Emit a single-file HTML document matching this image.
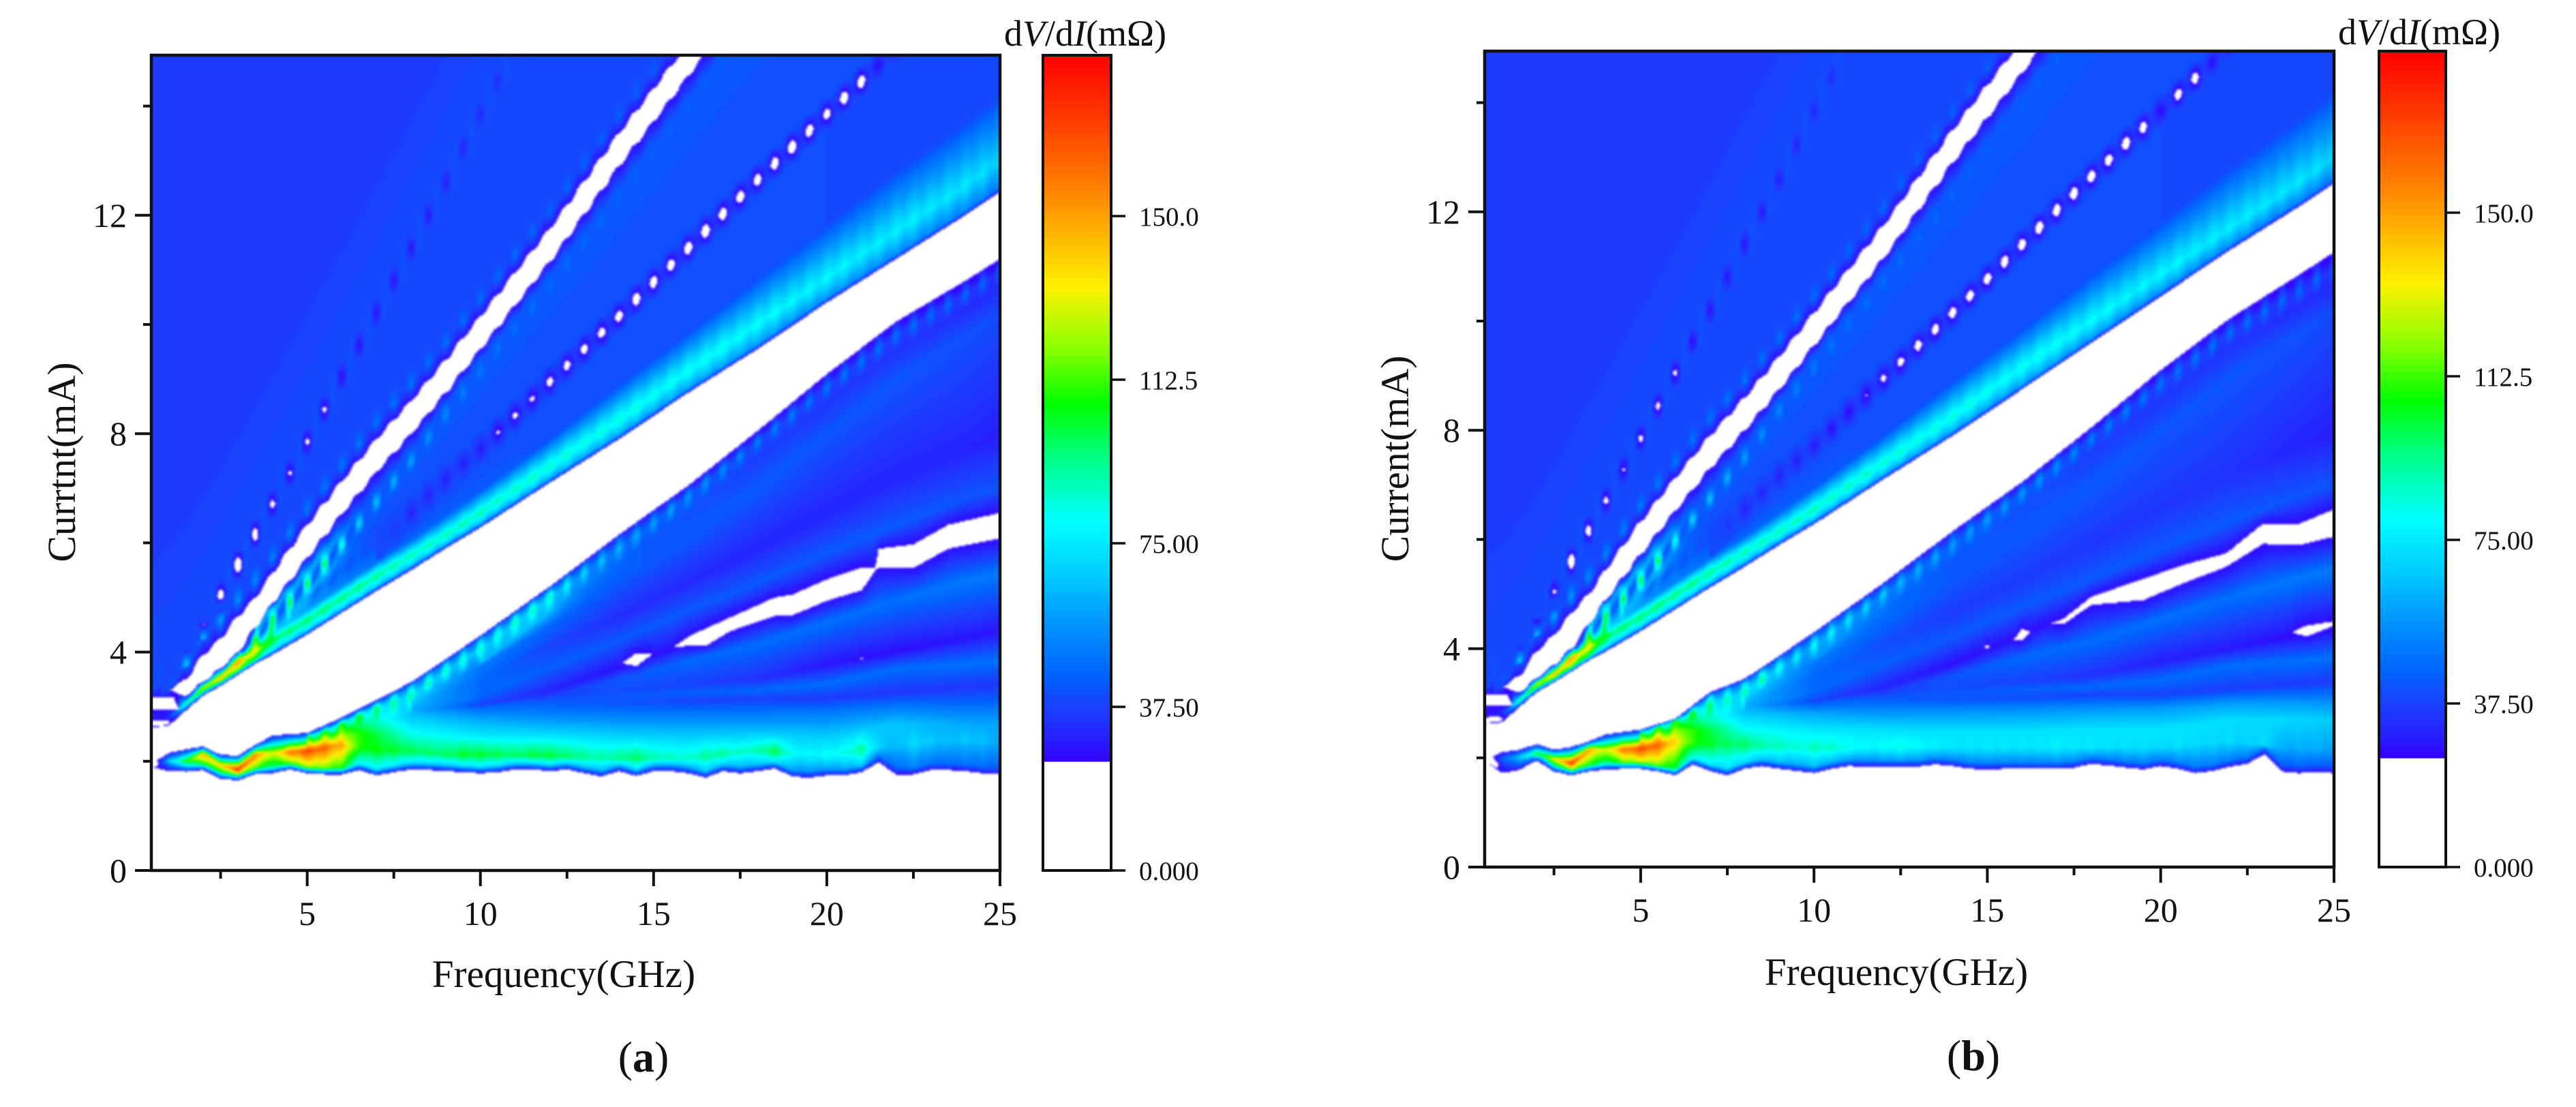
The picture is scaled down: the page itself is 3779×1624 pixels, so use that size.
<!DOCTYPE html>
<html lang="en">
<head>
<meta charset="utf-8">
<title>dV/dI maps versus frequency and current</title>
<style>
html,body{margin:0;padding:0;background:#fff;width:3779px;height:1624px;overflow:hidden}
svg{display:block}
text{font-family:"Liberation Serif","Noto Serif CJK SC",serif;fill:#111}
</style>
</head>
<body>
<svg id="figure" xmlns="http://www.w3.org/2000/svg" width="3779" height="1624" viewBox="0 0 3779 1624">
  <defs>
    <filter id="soft" x="0" y="0" width="3779" height="1624" filterUnits="userSpaceOnUse" color-interpolation-filters="sRGB"><feGaussianBlur stdDeviation="1.6"/></filter>
    <clipPath id="clip-a"><rect x="222" y="81" width="1245" height="1196"/></clipPath>
    <clipPath id="clip-b"><rect x="2178" y="75" width="1246" height="1197"/></clipPath>
  </defs>
  <rect width="3779" height="1624" fill="#fff"/>
  <g id="panel-a"></g>
  <g id="panel-b"></g>

  <text x="827" y="1448" font-size="57" text-anchor="middle">Frequency(GHz)</text>
  <text transform="translate(110 678) rotate(-90)" font-size="58" text-anchor="middle">Currtnt(mA)</text>
  <text x="1473" y="67" font-size="54">d<tspan font-style="italic">V</tspan>/d<tspan font-style="italic">I</tspan>(mΩ)</text>
  <text x="944" y="1572" font-size="64" text-anchor="middle">(<tspan font-weight="bold">a</tspan>)</text>

  <text x="2782" y="1445" font-size="57" text-anchor="middle">Frequency(GHz)</text>
  <text transform="translate(2066 673) rotate(-90)" font-size="58" text-anchor="middle">Current(mA)</text>
  <text x="3430" y="65" font-size="54">d<tspan font-style="italic">V</tspan>/d<tspan font-style="italic">I</tspan>(mΩ)</text>
  <text x="2895" y="1570" font-size="64" text-anchor="middle">(<tspan font-weight="bold">b</tspan>)</text>
</svg>
<script>
/* ---------- tick data ---------- */
const xMajorTicks=[5,10,15,20,25];
const xMinorTicks=[2.5,7.5,12.5,17.5,22.5];
const yMajorTicks=[0,4,8,12];
const yMinorTicks=[2,6,10,14];
const barTicks=[0,37.5,75,112.5,150];
const barTickLabels=["0.000","37.50","75.00","112.5","150.0"];

/* ---------- frequency grids (GHz) ---------- */
const fFine=[0.5,1,1.5,2,2.5,3,3.5,4,4.5,5,5.5,6,6.5,7,7.5,8,8.5,9,9.5,10,10.5,11,11.5,12,12.5,13,13.5,14,14.5,15,15.5,16,16.5,17,17.5,18,18.5,19,19.5,20,20.5,21,21.5,22,22.5,23,23.5,24,24.5,25];
const fCoarse=[0.5,1,1.5,2,2.5,3,3.5,4,5,6,7,8,9,10,12,14,16,18,20,22,24,25];
const fFrom1=[1,1.5,2,2.5,3,3.5,4,5,6,7,8,9,10,12,14,16,18,20,22,24,25];
const fFrom3=[3,3.5,4,5,6,7,8,9,10,12,14,16,18,20,22,24,25];
const fFrom4=[4,5,6,7,8,9,10,12,14,16,18,20,22,24,25];
const fFrom5=[5,6,7,8,9,10,12,14,16,18,20,22,24,25];
const fFrom6=[6,8,10,12,14,16,18,20,22,24,25];
const fBand=[8,10,12,14,16,18,20,22,24,25];

/* ---------- white-region boundaries, current in mA ---------- */
const bottomEdgeA=[1.9,1.82,1.81,1.84,1.68,1.65,1.76,1.78,1.85,1.78,1.76,1.76,1.84,1.74,1.8,1.85,1.84,1.82,1.8,1.78,1.8,1.85,1.85,1.82,1.85,1.78,1.72,1.82,1.73,1.82,1.82,1.78,1.7,1.82,1.78,1.82,1.87,1.72,1.7,1.74,1.74,1.8,1.98,1.76,1.76,1.84,1.84,1.82,1.78,1.76];
const bottomEdgeB=[1.95,1.72,1.78,1.95,1.75,1.68,1.75,1.79,1.8,1.8,1.75,1.68,1.88,1.76,1.68,1.8,1.85,1.8,1.76,1.72,1.8,1.85,1.84,1.84,1.84,1.84,1.88,1.85,1.8,1.79,1.8,1.8,1.8,1.8,1.82,1.89,1.86,1.82,1.79,1.85,1.8,1.72,1.76,1.84,1.89,2.07,1.75,1.72,1.74,1.72];
const bandLowA=[1.95,2.15,2.22,2.27,2.12,2.1,2.3,2.47,2.52,2.8,3.12,3.45,3.87,4.3,5.2,6.15,7.05,8.05,9.09,10.05,10.8,11.2];
const bandHighA=[2.62,2.65,2.93,3.2,3.38,3.58,3.78,3.95,4.32,4.72,5.12,5.5,5.9,6.28,7.1,7.9,8.75,9.55,10.4,11.2,12.0,12.43];
const bandLowB=[1.95,2.1,2.15,2.25,2.15,2.2,2.3,2.43,2.52,2.72,3.2,3.45,3.87,4.3,5.2,6.15,7.05,8.05,9.1,10.05,10.85,11.26];
const bandHighB=[2.62,2.65,2.93,3.2,3.38,3.58,3.78,3.95,4.32,4.72,5.12,5.5,5.9,6.28,7.1,7.9,8.75,9.6,10.45,11.3,12.1,12.52];
const ribbonLow=[3.3,3.2,3.46,3.7,4.0,4.45,4.9,5.73,6.53,7.3,8.0,8.75,9.55,11.15,12.9,14.55,16.2,17.8,19.4,21,21.8];
const ribbonHigh=[3.3,3.5,3.95,4.25,4.65,5.0,5.45,6.33,7.13,7.9,8.6,9.35,10.15,11.75,13.5,15.15,16.8,18.4,20,21.6,22.4];
const nickF=[0.5,1,1.15,1.3];
const nickLow=[2.95,2.95,2.95,2.95];
const nickHigh=[3.16,3.16,3.16,2.95];
const slitAF=[14.1,14.5,15,15.6,16,16.5,17.2,18.5,19,20,21,21.2,21.4,21.5,22.5,23.5,25];
const slitALow=[3.8,3.74,3.98,4.1,4.11,4.11,4.38,4.66,4.67,4.94,5.13,5.3,5.5,5.55,5.54,5.89,6.08];
const slitAHigh=[3.8,3.98,3.98,4.1,4.28,4.43,4.63,5.0,5.05,5.33,5.55,5.55,5.55,5.89,5.97,6.33,6.55];
const specAF=[20.95,21,21.05];
const specALow=[3.88,3.86,3.88];
const specAHigh=[3.88,3.91,3.88];
const slitBF=[16.8,17.2,18,19.5,20.7,21.9,22.95,24,25];
const slitBLow=[4.45,4.45,4.8,4.89,5.21,5.5,5.92,5.9,6.05];
const slitBHigh=[4.45,4.55,4.95,5.28,5.54,5.75,6.29,6.29,6.55];
const blob1BF=[15.75,16,16.25];
const blob1BLow=[4.15,4.15,4.3];
const blob1BHigh=[4.15,4.37,4.3];
const blob2BF=[23.8,24.2,25];
const blob2BLow=[4.3,4.22,4.42];
const blob2BHigh=[4.3,4.42,4.5];
const dotBF=[14.92,15,15.08];
const dotBLow=[4.03,4.0,4.03];
const dotBHigh=[4.03,4.07,4.03];

/* ---------- feature-line currents (mA) ---------- */
const mainCurrentA=[1.95,2.0,2.0,2.13,1.93,1.85,2.12,2.15,2.19,2.3,2.2,2.18,2.12,2.12,2.1,2.05,2.05,2.2,2.1,2.3,2.4,2.35];
const mainCurrentB=[1.95,1.98,2.02,2.07,1.98,1.9,2.15,2.15,2.17,2.3,2.25,2.24,2.2,2.17,2.2,2.2,2.2,2.2,2.2,2.3,2.15,2.15];
const shoulder1Current=[2.5,2.5,2.48,2.48,2.45,2.45,2.5,2.5,2.7,2.7,2.7];
const shoulder2Current=[2.58,2.85,2.85,2.85,2.87,2.87,2.87,2.9,3.0,3.0,3.0];
const ray1Current=[2.87,2.9,3.05,3.05,3.1,3.15,3.15,3.25,3.35,3.4];
const band1Current=[2.88,2.95,3.12,3.2,3.25,3.3,3.42,3.7,3.78,3.85];
const ray2Current=[2.89,2.97,3.14,3.3,3.4,3.5,3.77,4.0,4.25,4.38];
const band2Current=[2.9,2.98,3.2,3.5,3.85,4.15,4.55,4.95,5.3,5.45];
const ray3CurrentA=[2.92,3.02,3.29,3.72,4.15,4.55,4.95,5.7,5.95,6.3];
const ray3CurrentB=[2.92,3.02,3.29,3.72,4.25,4.85,5.4,5.6,6.07,6.3];
const band3Current=[2.95,3.2,3.7,4.2,4.75,5.25,5.8,6.3,6.8,7.0];
const ray4Current=[3.0,3.5,4.1,4.65,5.27,5.9,6.55,7.2,7.7,7.95];
const band4Current=[3.1,3.75,4.5,5.3,6.1,7.0,8.0,9.0,9.8,10.2];
const lowerRidgeCurrent=[2.45,2.67,2.97,3.2,3.65,4.06,5.0,5.9,6.85,7.85,8.85,9.8,10.55,10.95];
const brightRidgeCurrent=[2.8,2.8,3.03,3.35,3.53,3.82,4.02,4.22,4.58,5.0,5.4,5.77,6.14,6.55,7.4,8.25,9.15,10.0,10.85,11.7,12.55,13.0];
const valleyCurrent=[4.32,4.78,5.22,5.65,6.05,6.5,6.95,7.9,8.9,9.85,10.85,11.8,12.8,13.7,14.2];
const dotRayBCurrent=[5.0,5.5,5.98,6.56,7.17,7.72,8.95,10.15,11.4,12.65,13.85,15.05,16.3,17];
const beadRidgeCurrent=[3.95,4.23,4.6,5.25,5.97,6.75,7.5,8.35,9.15,10.7,12.3,13.95,15.6,17.2,18.8,20.4,21.2];
const upperRidgeCurrent=[3.4,3.77,4.25,4.6,4.95,5.3,5.72,6.6,7.4,8.2,8.9,9.65,10.45,12.05,13.8,15.45,17.1,18.7,20.3,21.9,22.7];
const dotRayACurrent=[3.3,3.6,4.0,4.51,5.03,5.6,6.16,6.71,7.85,9.05,10.2,11.4,12.6,13.85,16.3,18.7,21,23.4,25.8,28,30.5,31.8];
const topFieldCurrent=[6.3,6.6,7,7.5,8,8.6,9.2,9.7,10.9,12,13.2,14.4,15.6,16.9,19.3,21.7,24,26.4,28.8,31,33.5,34.8];

/* ---------- feature-line dV/dI values (mOhm) ---------- */
const mainValueA=[0,70,110,150,140,178,158,130,160,172,165,150,110,108,105,102,100,100,105,105,102,100,104,104,100,95,92,96,100,92,90,88,94,94,88,92,102,82,80,82,84,94,70,65,72,68,66,68,66,62];
const mainValueB=[0,45,68,105,135,175,150,130,160,172,165,140,112,105,100,100,92,90,86,90,88,84,80,82,84,80,78,76,76,76,76,76,76,78,76,76,74,74,74,72,74,72,72,72,70,72,62,62,62,60];
const shoulder1ValueA=[120,82,74,72,70,68,68,66,66,60,60];
const shoulder1ValueB=[120,82,76,74,74,74,74,74,72,70,68];
const shoulder2ValueA=[110,65,56,52,50,50,50,50,50,48,48];
const shoulder2ValueB=[110,65,58,55,55,56,58,58,58,58,56];
const ray1ValueA=[64,50,44,42,38,37,36,35,35,35];
const ray1ValueB=[64,50,44,42,40,38,38,37,36,36];
const band1Value=[64,48,42,42,44,46,47,47,48,48];
const ray2ValueA=[64,47,40,40,38,34,28,27,28,28];
const ray2ValueB=[64,47,40,40,38,34,30,29,26,26];
const band2Value=[64,46,36,42,46,47,48,48,50,50];
const ray3Value=[62,38,31,27,27,27,27,27,27,27];
const band3Value=[62,46,44,43,43,43,43,43,42,42];
const ray4ValueA=[64,46,38,33,32,31,31,31,31,30];
const ray4ValueB=[64,46,40,36,36,35,35,34,31,30];
const band4Value=[70,50,46,43,43,43,42,42,41,40];
const lowerRidgeValueA=[60,60,60,60,60,60,60,60,60,100,100,110,108,100,95,95,92,90,88,90,88,92,92,90,80,72,68,65,62,60,60,58,57,56,54,52,52,52,50,50,50,50,50,49,49,48,48,47,47,46];
const lowerRidgeValueB=[60,60,60,60,60,60,60,60,60,100,105,110,108,100,92,95,98,85,78,82,80,76,72,70,66,64,62,60,60,60,58,58,57,56,54,52,52,52,50,50,50,50,50,49,49,48,48,47,47,46];
const brightRidgeValue=[30,32,95,130,150,155,135,105,100,100,100,98,98,96,94,92,92,92,92,92,90,90,90,88,88,86,86,86,86,84,84,84,84,84,82,82,82,80,80,80,80,78,78,78,78,76,76,76,74,72];
const valleyValue=[75,58,52,48,46,44,43,41,40,40,40,40,39,39,39];
const dotRayBValueA=[30,30,50,70,80,85,80,75,68,60,52,46,44,40,36,30,31,30,30,29,23,21,22,19,19,18,18,17,16,17,17,16,15,16,16,17,16,15,16,18,16,15,27,29,30,31,32,33,34,34];
const dotRayBValueB=[30,30,50,70,80,85,80,75,68,60,52,46,44,40,36,30,31,30,30,29,26.5,26,24,21,19,18,18,17,17,17,17,17,16,16,16,16,17,16,17,26,17,17,27,29,30,31,32,33,34,34];
const beadRidgeValue=[30,30,60,70,75,90,110,105,105,105,105,85,72,68,64,60,56,54,52,50,49,48,48,47,47,46,46,45,45,44,44,44,44,44,44,44,44,44,44,44,44,44,44,44,44,44,44,44,44,44];
const upperRidgeValue=[38,42,70,65,60,56,54,52,52,50,50,50,50,49,49,49,48,48,48,48,47,47,46,46,46,45,45,45,45,44,44,44,44,44,44,44,44,44,44,44,44,44,44,44,44,44,44,44,44,44];
const dotRayAValueA=[38,38,34,24,14,12,16,20,22.5,21.5,21.5,26.5,27,27.5,28,28,29,30,31,32,33,35,36,36,36,36,36,36,36,36,36,36,36,36,36,36,36,36,36,36,36,36,36,36,36,36,36,36,36,36];
const dotRayAValueB=[38,38,34,24,22,13,18,20.5,23,21,20.5,21,26.5,27,28,28,29,30,31,32,33,35,36,36,36,36,36,36,36,36,36,36,36,36,36,36,36,36,36,36,36,36,36,36,36,36,36,36,36,36];
const topFieldValue=[36,36,36,36,36,36,36,36,36,36,36,36,36,36,36,36,36,36,36,36,36,36];

/* ---------- colour scale ---------- */
const colorStops=[[25,52,0,255],[30,38,30,255],[36,30,58,255],[40,18,75,255],[45,0,100,255],[57,0,150,255],[68,0,205,255],[80,0,255,255],[95,0,255,130],[107,0,255,0],[120,140,255,0],[134,255,240,0],[150,255,160,0],[165,255,90,0],[187,255,0,0]];
const threshold=25, levelStep=1.5, edgeValue=26, cell=2;
function colorOf(v){
  let i=0;
  while(i<colorStops.length-2&&v>colorStops[i+1][0])i++;
  const a=colorStops[i],b=colorStops[i+1];
  const t=Math.min(1,Math.max(0,(v-a[0])/(b[0]-a[0])));
  return 'rgb('+[1,2,3].map(k=>Math.round(a[k]+(b[k]-a[k])*t)).join(',')+')';
}

/* ---------- drawing styles shared by the line features ---------- */
const mainStyle={bead:0.1,foot:{gap:0,side:'hi',d:0.12,k:0.72}};
const lowerStyle={bead:0.9,ratio:0.72,sharp:1.5,foot:{gap:1,side:'lo',d:0.07,k:0.72},low:{d:0.28,k:0.7,fMin:10}};
const brightStyle={bead:0.3,ratio:0.8,foot:{gap:1,side:'hi',d:0.08,k:0.72}};
const rayBStyle={bead:0.75,base:40,dip:0.3,ease:0.7};
const beadStyle={bead:1,base:42,ease:0.5,sharp:1.5,low:{d:0.22,k:0.6,min:42,fMin:4.5},high:{d:0.22,k:0.6,min:42}};
const upperStyle={bead:0.9,base:38,ease:0.5,sharp:1.5,high:{d:0.3,base:39}};
const rayAStyle={bead:1,sharp:1.2,base:40,dip:0.3,ease:1};

/* ---------- panel descriptions ---------- */
function ln(g,I,V,o){return Object.assign({g,I,V},o||{});}
function gap(f,lo,hi,ease){return {f,lo,hi,ease:ease||0};}
const panels=[
 {id:'a',left:222,right:1467,top:81,bottom:1277,barLeft:1530,barRight:1630,
  gaps:[gap(fFine,bottomEdgeA.map(()=>-1),bottomEdgeA),gap(fCoarse,bandLowA,bandHighA),gap(fFrom1,ribbonLow,ribbonHigh,0.5),gap(nickF,nickLow,nickHigh),gap(slitAF,slitALow,slitAHigh),gap(specAF,specALow,specAHigh)],
  lines:[
   ln(fCoarse,mainCurrentA,mainValueA,mainStyle),
   ln(fFrom6,shoulder1Current,shoulder1ValueA),
   ln(fFrom6,shoulder2Current,shoulder2ValueA),
   ln(fBand,ray1Current,ray1ValueA),
   ln(fBand,band1Current,band1Value),
   ln(fBand,ray2Current,ray2ValueA),
   ln(fBand,band2Current,band2Value),
   ln(fBand,ray3CurrentA,ray3Value),
   ln(fBand,band3Current,band3Value),
   ln(fBand,ray4Current,ray4ValueA),
   ln(fBand,band4Current,band4Value),
   ln(fFrom5,lowerRidgeCurrent,lowerRidgeValueA,lowerStyle),
   ln(fCoarse,brightRidgeCurrent,brightRidgeValue,brightStyle),
   ln(fFrom4,valleyCurrent,valleyValue),
   ln(fFrom5,dotRayBCurrent,dotRayBValueA,rayBStyle),
   ln(fFrom3,beadRidgeCurrent,beadRidgeValue,beadStyle),
   ln(fFrom1,upperRidgeCurrent,upperRidgeValue,upperStyle),
   ln(fCoarse,dotRayACurrent,dotRayAValueA,rayAStyle),
   ln(fCoarse,topFieldCurrent,topFieldValue)
  ]},
 {id:'b',left:2178,right:3424,top:75,bottom:1272,barLeft:3490,barRight:3588,
  gaps:[gap(fFine,bottomEdgeB.map(()=>-1),bottomEdgeB),gap(fCoarse,bandLowB,bandHighB),gap(fFrom1,ribbonLow,ribbonHigh,0.5),gap(nickF,nickLow,nickHigh),gap(slitBF,slitBLow,slitBHigh),gap(blob1BF,blob1BLow,blob1BHigh),gap(blob2BF,blob2BLow,blob2BHigh),gap(dotBF,dotBLow,dotBHigh)],
  lines:[
   ln(fCoarse,mainCurrentB,mainValueB,mainStyle),
   ln(fFrom6,shoulder1Current,shoulder1ValueB),
   ln(fFrom6,shoulder2Current,shoulder2ValueB),
   ln(fBand,ray1Current,ray1ValueB),
   ln(fBand,band1Current,band1Value),
   ln(fBand,ray2Current,ray2ValueB),
   ln(fBand,band2Current,band2Value),
   ln(fBand,ray3CurrentB,ray3Value),
   ln(fBand,band3Current,band3Value),
   ln(fBand,ray4Current,ray4ValueB),
   ln(fBand,band4Current,band4Value),
   ln(fFrom5,lowerRidgeCurrent,lowerRidgeValueB,lowerStyle),
   ln(fCoarse,brightRidgeCurrent,brightRidgeValue,brightStyle),
   ln(fFrom4,valleyCurrent,valleyValue),
   ln(fFrom5,dotRayBCurrent,dotRayBValueB,rayBStyle),
   ln(fFrom3,beadRidgeCurrent,beadRidgeValue,beadStyle),
   ln(fFrom1,upperRidgeCurrent,upperRidgeValue,upperStyle),
   ln(fCoarse,dotRayACurrent,dotRayAValueB,rayAStyle),
   ln(fCoarse,topFieldCurrent,topFieldValue)
  ]}
];

/* ---------- drawing ---------- */
const NS='http://www.w3.org/2000/svg';
const fMin=0.5,fMax=25,mAPerPx=1/80.1,barPerUnit=6.4;
function interp(g,a,f){
  if(f<g[0]||f>g[g.length-1])return null;
  let i=0;
  while(i<g.length-2&&f>g[i+1])i++;
  return a[i]+(a[i+1]-a[i])*(f-g[i])/(g[i+1]-g[i]);
}
function make(tag,attrs,parent){
  const e=document.createElementNS(NS,tag);
  for(const k in attrs)e.setAttribute(k,attrs[k]);
  parent.appendChild(e);
  return e;
}
function eased(f,amount,g){
  const u=(f-0.5)/0.5,k=Math.floor(u),fr=u-k;
  const s=fr*fr*(3-2*fr),e=s*s*(3-2*s);
  const out=0.5+0.5*(k+fr+(e-fr)*amount);
  return Math.min(g[g.length-1],Math.max(g[0],out));
}
function shoulderValue(s,v0){
  return s.base!==undefined?s.base:Math.max(s.min||0,v0*s.k);
}
function columnProfile(p,f){
  const sag=Math.pow(Math.sin(Math.PI*(f-0.5)/0.5),2);
  const open=[],knots=[];
  for(const g of p.gaps){
    if(interp(g.f,g.lo,f)===null)continue;
    const fg=g.ease?eased(f,g.ease,g.f):f;
    const lo=interp(g.f,g.lo,fg),hi=interp(g.f,g.hi,fg);
    if(hi-lo>0.012){
      open.push([lo,hi]);
      if(lo>0)knots.push([lo,edgeValue]);
      knots.push([hi,edgeValue]);
    }
  }
  const inside=x=>open.some(o=>x>o[0]&&x<o[1]);
  for(const l of p.lines){
    if(interp(l.g,l.I,f)===null)continue;
    const I=interp(l.g,l.I,l.ease?eased(f,l.ease,l.g):f);
    const v0=interp(l.V.length===fFine.length?fFine:l.g,l.V,f);
    let v=v0;
    if(l.bead){
      const target=l.base!==undefined?l.base:v*(l.ratio||0.7);
      const s=l.sharp?Math.min(1,sag*l.sharp):sag;
      v+=(target-v)*l.bead*s;
    }
    if(l.foot){
      const g=p.gaps[l.foot.gap];
      const b=interp(g.f,l.foot.side==='hi'?g.hi:g.lo,f);
      if(b!==null){
        const x=l.foot.side==='hi'?b+l.foot.d:b-l.foot.d;
        const ok=l.foot.side==='hi'?x<I-0.02:x>I+0.02;
        if(ok&&!inside(x))knots.push([x,v*l.foot.k]);
      }
    }
    if(l.low&&f>=l.low.fMin&&!inside(I-l.low.d))knots.push([I-l.low.d,shoulderValue(l.low,v0)]);
    if(l.high&&!inside(I+l.high.d))knots.push([I+l.high.d,shoulderValue(l.high,v0)]);
    if(l.dip&&v0<l.base){
      if(!inside(I-l.dip))knots.push([I-l.dip,l.base]);
      if(!inside(I))knots.push([I,v]);
      if(!inside(I+l.dip))knots.push([I+l.dip,l.base]);
    }else if(!inside(I))knots.push([I,v]);
  }
  knots.sort((a,b)=>a[0]-b[0]);
  return {open,knots};
}
function valueAt(col,I){
  for(const o of col.open)if(I>o[0]&&I<o[1])return 0;
  const k=col.knots;
  if(I<=k[0][0])return k[0][1];
  for(let i=0;i<k.length-1;i++){
    if(I<=k[i+1][0]){
      const d=k[i+1][0]-k[i][0];
      return d<1e-6?k[i][1]:k[i][1]+(k[i+1][1]-k[i][1])*(I-k[i][0])/d;
    }
  }
  return k[k.length-1][1];
}
for(const p of panels){
  const root=document.getElementById('panel-'+p.id);
  const xOf=f=>p.left+(f-fMin)*(p.right-p.left)/(fMax-fMin);
  const fOf=x=>fMin+(x-p.left)*(fMax-fMin)/(p.right-p.left);
  const yOf=I=>p.bottom-I/mAPerPx;
  const iOf=y=>(p.bottom-y)*mAPerPx;
  const barY=v=>p.bottom-v*barPerUnit;

  /* heatmap: one path per colour level, built from the arrays */
  const clip=make('g',{'clip-path':'url(#clip-'+p.id+')'},root);
  
  
  const soft=make('g',{filter:'url(#soft)'},clip);
  const levels=Math.ceil((187-threshold)/levelStep)+1;
  const runs=Array.from({length:levels},()=>[]);
  for(let x=p.left-6;x<p.right+6;x+=cell){
    const f=Math.min(fMax,Math.max(fMin,fOf(x+cell/2)));
    const col=columnProfile(p,f);
    let cur=-1,start=p.top-6;
    for(let y=p.top-6;y<=p.bottom+6;y+=cell){
      const v=y>p.bottom+5?0:valueAt(col,iOf(y+cell/2));
      const lev=v<threshold?-1:Math.min(levels-1,Math.floor((v-threshold)/levelStep));
      if(lev!==cur){
        if(cur>=0)runs[cur].push('M'+x+' '+start+'h'+cell+'v'+(y-start)+'h-'+cell+'z');
        cur=lev;start=y;
      }
    }
    if(cur>=0)runs[cur].push('M'+x+' '+start+'h'+cell+'v'+(p.bottom+6-start)+'h-'+cell+'z');
  }
  runs.forEach((r,i)=>{
    if(!r.length)return;
    const path=make('path',{d:r.join(''),fill:colorOf(threshold+(i+0.5)*levelStep),'shape-rendering':'crispEdges'},soft);
    
    
  });

  /* plot frame */
  const frame=make('rect',{x:p.left,y:p.top,width:p.right-p.left,height:p.bottom-p.top,fill:'none',stroke:'#111','stroke-width':4.5},root);
  
  

  /* axis ticks and labels */
  xMajorTicks.forEach(t=>{
    const tick=make('line',{x1:xOf(t),x2:xOf(t),y1:p.bottom,y2:p.bottom+23,stroke:'#111','stroke-width':4},root);
    
    
    const lab=make('text',{x:xOf(t),y:p.bottom+80,'font-size':50,'text-anchor':'middle'},root);
    lab.textContent=String(t);
    
    
  });
  xMinorTicks.forEach(t=>{
    const tick=make('line',{x1:xOf(t),x2:xOf(t),y1:p.bottom,y2:p.bottom+12,stroke:'#111','stroke-width':4},root);
    
    
  });
  yMajorTicks.forEach(t=>{
    const tick=make('line',{x1:p.left-24,x2:p.left,y1:yOf(t),y2:yOf(t),stroke:'#111','stroke-width':4},root);
    
    
    const lab=make('text',{x:p.left-36,y:yOf(t)+17,'font-size':50,'text-anchor':'end'},root);
    lab.textContent=String(t);
    
    
  });
  yMinorTicks.forEach(t=>{
    const tick=make('line',{x1:p.left-12,x2:p.left,y1:yOf(t),y2:yOf(t),stroke:'#111','stroke-width':4},root);
    
    
  });

  /* colour bar */
  const barW=p.barRight-p.barLeft;
  for(let i=0;i<levels-1;i++){
    const v0=threshold+i*levelStep;
    const y1=barY(v0),y0=barY(Math.min(187,v0+levelStep));
    const sw=make('rect',{x:p.barLeft,y:y0,width:barW,height:y1-y0+0.6,fill:colorOf(v0+levelStep/2),'shape-rendering':'crispEdges'},root);
    
    
  }
  const barFrame=make('rect',{x:p.barLeft,y:p.top,width:barW,height:p.bottom-p.top,fill:'none',stroke:'#111','stroke-width':4},root);
  
  
  barTicks.forEach((t,i)=>{
    const tick=make('line',{x1:p.barRight,x2:p.barRight+21,y1:barY(t),y2:barY(t),stroke:'#111','stroke-width':3.5},root);
    
    
    const lab=make('text',{x:p.barRight+41,y:barY(t)+14,'font-size':39},root);
    lab.textContent=barTickLabels[i];
    
    
  });
}
</script>
</body>
</html>
